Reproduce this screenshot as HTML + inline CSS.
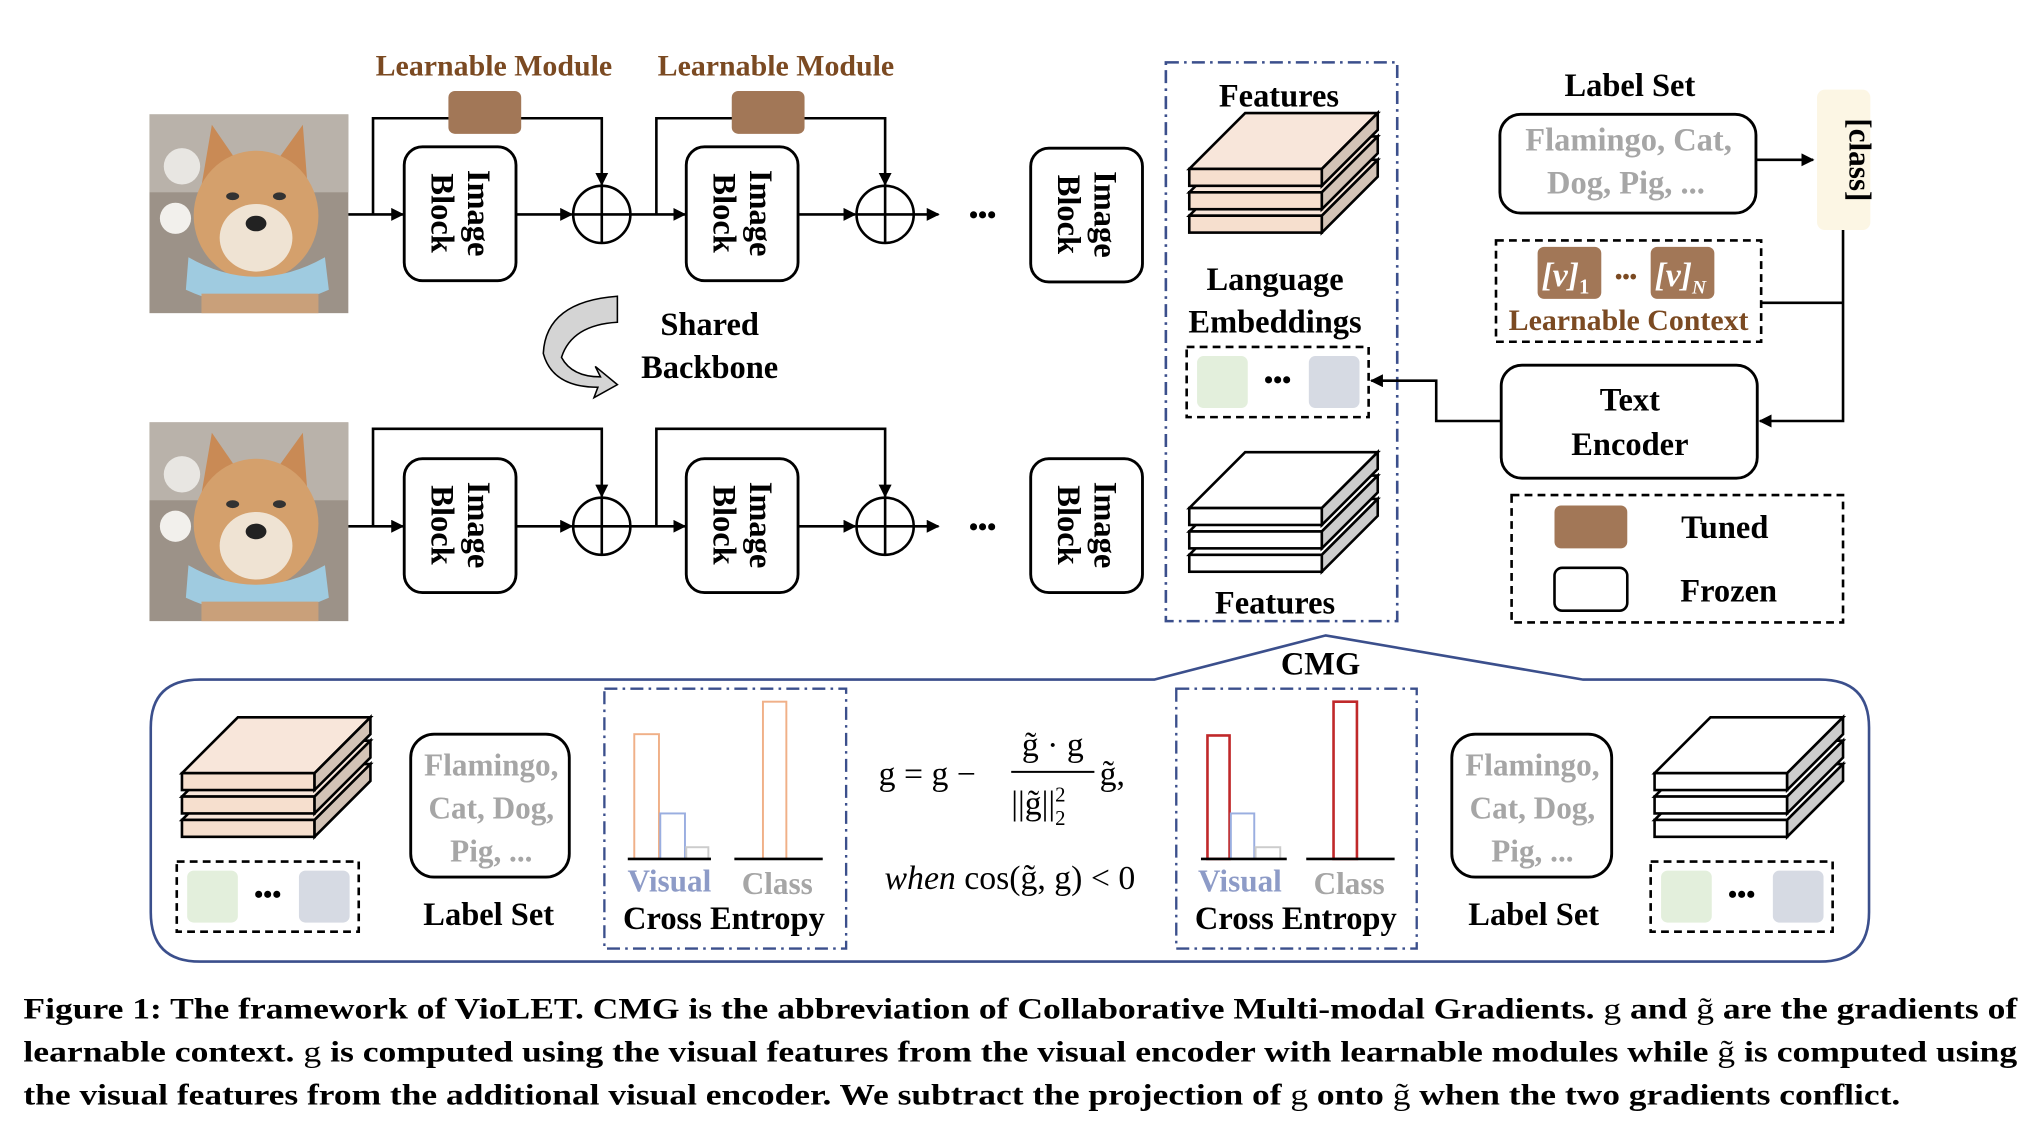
<!DOCTYPE html>
<html><head><meta charset="utf-8"><style>
html,body{margin:0;padding:0;background:#fff;}
svg{display:block;}
text{font-family:"Liberation Serif",serif;font-weight:bold;}
</style></head><body>
<svg width="2038" height="1124" viewBox="0 0 1568 865" preserveAspectRatio="none" xmlns="http://www.w3.org/2000/svg">
<defs>
<marker id="ah" markerWidth="10" markerHeight="10" refX="9" refY="5" orient="auto" markerUnits="userSpaceOnUse"><path d="M0,0 L10,5 L0,10 z" fill="#000"/></marker>
<g id="dog">
<rect x="0" y="0" width="153" height="153" fill="#9c9288"/>
<rect x="0" y="0" width="153" height="60" fill="#b9b2aa"/>
<circle cx="25" cy="40" r="14" fill="#e8e6e2"/>
<circle cx="20" cy="80" r="12" fill="#f2f0ec"/>
<path d="M40,55 L48,8 L70,40 L95,40 L118,8 L122,60 Z" fill="#c98a55"/>
<ellipse cx="82" cy="78" rx="48" ry="50" fill="#d4a06c"/>
<ellipse cx="82" cy="95" rx="28" ry="26" fill="#efe3d3"/>
<ellipse cx="82" cy="84" rx="8" ry="6" fill="#222"/>
<ellipse cx="64" cy="63" rx="5" ry="3" fill="#333"/>
<ellipse cx="100" cy="63" rx="5" ry="3" fill="#333"/>
<path d="M30,110 Q82,140 135,110 L138,135 Q82,160 28,135 Z" fill="#9fcbe0"/>
<rect x="40" y="138" width="90" height="15" fill="#c9a07a"/>
</g>
<g id="blockT">
<rect x="0" y="0" width="86" height="103" rx="14" fill="#fff" stroke="#000" stroke-width="2.2"/>
<g transform="translate(43,51) rotate(90)"><text x="0" y="-6" font-size="25" text-anchor="middle">Image</text><text x="0" y="22" font-size="25" text-anchor="middle">Block</text></g>
</g>
<g id="plus"><circle cx="0" cy="0" r="22" fill="#fff" stroke="#000" stroke-width="2"/><line x1="-22" y1="0" x2="22" y2="0" stroke="#000" stroke-width="2"/><line x1="0" y1="-22" x2="0" y2="22" stroke="#000" stroke-width="2"/></g>
<g id="stackP">
<g transform="translate(0,36)"><polygon points="0,43 102,43 145,0 43,0" fill="#f8e6da" stroke="#000" stroke-width="2"/><rect x="0" y="43" width="102" height="13" fill="#f6dfce" stroke="#000" stroke-width="2"/><polygon points="102,43 145,0 145,13 102,56" fill="#d3c3b6" stroke="#000" stroke-width="2"/></g>
<g transform="translate(0,18)"><polygon points="0,43 102,43 145,0 43,0" fill="#f8e6da" stroke="#000" stroke-width="2"/><rect x="0" y="43" width="102" height="13" fill="#f6dfce" stroke="#000" stroke-width="2"/><polygon points="102,43 145,0 145,13 102,56" fill="#d3c3b6" stroke="#000" stroke-width="2"/></g>
<g><polygon points="0,43 102,43 145,0 43,0" fill="#f8e6da" stroke="#000" stroke-width="2"/><rect x="0" y="43" width="102" height="13" fill="#f6dfce" stroke="#000" stroke-width="2"/><polygon points="102,43 145,0 145,13 102,56" fill="#d3c3b6" stroke="#000" stroke-width="2"/></g>
</g>
<g id="stackW">
<g transform="translate(0,36)"><polygon points="0,43 102,43 145,0 43,0" fill="#fff" stroke="#000" stroke-width="2"/><rect x="0" y="43" width="102" height="13" fill="#fff" stroke="#000" stroke-width="2"/><polygon points="102,43 145,0 145,13 102,56" fill="#ccc" stroke="#000" stroke-width="2"/></g>
<g transform="translate(0,18)"><polygon points="0,43 102,43 145,0 43,0" fill="#fff" stroke="#000" stroke-width="2"/><rect x="0" y="43" width="102" height="13" fill="#fff" stroke="#000" stroke-width="2"/><polygon points="102,43 145,0 145,13 102,56" fill="#ccc" stroke="#000" stroke-width="2"/></g>
<g><polygon points="0,43 102,43 145,0 43,0" fill="#fff" stroke="#000" stroke-width="2"/><rect x="0" y="43" width="102" height="13" fill="#fff" stroke="#000" stroke-width="2"/><polygon points="102,43 145,0 145,13 102,56" fill="#ccc" stroke="#000" stroke-width="2"/></g>
</g>
<g id="emb">
<rect x="0" y="0" width="140" height="54" fill="none" stroke="#000" stroke-width="2" stroke-dasharray="6,4"/>
<rect x="8" y="7" width="39" height="40" rx="5" fill="#e3efdc"/>
<rect x="94" y="7" width="39" height="40" rx="5" fill="#d6dae3"/>
<text x="70" y="32" font-size="20" text-anchor="middle">•••</text>
</g>
</defs>

<use href="#dog" x="115" y="88"/>
<use href="#dog" x="115" y="325"/>
<text x="380" y="58" font-size="23" fill="#7b4a22" text-anchor="middle">Learnable Module</text>
<text x="597" y="58" font-size="23" fill="#7b4a22" text-anchor="middle">Learnable Module</text>

<g stroke="#000" stroke-width="2" fill="none">
<line x1="268" y1="165" x2="310" y2="165" marker-end="url(#ah)"/>
<polyline points="287,165 287,91 463,91 463,142" marker-end="url(#ah)"/>
<line x1="397" y1="165" x2="440" y2="165" marker-end="url(#ah)"/>
<line x1="485" y1="165" x2="527" y2="165" marker-end="url(#ah)"/>
<polyline points="505,165 505,91 681,91 681,142" marker-end="url(#ah)"/>
<line x1="614" y1="165" x2="658" y2="165" marker-end="url(#ah)"/>
<line x1="703" y1="165" x2="722" y2="165" marker-end="url(#ah)"/>

<line x1="268" y1="405" x2="310" y2="405" marker-end="url(#ah)"/>
<polyline points="287,405 287,330 463,330 463,382" marker-end="url(#ah)"/>
<line x1="397" y1="405" x2="440" y2="405" marker-end="url(#ah)"/>
<line x1="485" y1="405" x2="527" y2="405" marker-end="url(#ah)"/>
<polyline points="505,405 505,330 681,330 681,382" marker-end="url(#ah)"/>
<line x1="614" y1="405" x2="658" y2="405" marker-end="url(#ah)"/>
<line x1="703" y1="405" x2="722" y2="405" marker-end="url(#ah)"/>
</g>
<rect x="345" y="70" width="56" height="33" rx="5" fill="#a27757"/>
<rect x="563" y="70" width="56" height="33" rx="5" fill="#a27757"/>
<use href="#blockT" x="311" y="113"/>
<use href="#blockT" x="528" y="113"/>
<use href="#blockT" x="793" y="114"/>
<use href="#blockT" x="311" y="353"/>
<use href="#blockT" x="528" y="353"/>
<use href="#blockT" x="793" y="353"/>
<use href="#plus" x="463" y="165"/>
<use href="#plus" x="681" y="165"/>
<use href="#plus" x="463" y="405"/>
<use href="#plus" x="681" y="405"/>
<text x="756" y="172" font-size="20" text-anchor="middle">•••</text>
<text x="756" y="412" font-size="20" text-anchor="middle">•••</text>

<path d="M475,228 L475,248 Q440,250 432,275 Q440,290 462,290 L458,282 L475,296 L457,306 L460,298 Q425,298 418,272 Q420,232 475,228 Z" fill="#d4d4d4" stroke="#000" stroke-width="1.2"/>
<text x="546" y="258" font-size="25" text-anchor="middle">Shared</text>
<text x="546" y="291" font-size="25" text-anchor="middle">Backbone</text>

<rect x="897" y="48" width="178" height="430" fill="none" stroke="#3b4f8c" stroke-width="2" stroke-dasharray="10,4,2,4"/>
<text x="984" y="82" font-size="25" text-anchor="middle">Features</text>
<use href="#stackP" x="915" y="87"/>
<text x="981" y="223" font-size="25" text-anchor="middle">Language</text>
<text x="981" y="256" font-size="25" text-anchor="middle">Embeddings</text>
<use href="#emb" x="913" y="267"/>
<use href="#stackW" x="915" y="348"/>
<text x="981" y="472" font-size="25" text-anchor="middle">Features</text>

<text x="1254" y="74" font-size="25" text-anchor="middle">Label Set</text>
<rect x="1154" y="88" width="197" height="76" rx="16" fill="#fff" stroke="#000" stroke-width="2.2"/>
<text x="1253" y="116" font-size="25" fill="#a6a6a6" text-anchor="middle">Flamingo, Cat,</text>
<text x="1251" y="149" font-size="25" fill="#a6a6a6" text-anchor="middle">Dog, Pig, ...</text>
<line x1="1351" y1="123" x2="1395" y2="123" stroke="#000" stroke-width="2" marker-end="url(#ah)"/>
<rect x="1398" y="69" width="41" height="108" rx="6" fill="#fcf6e4"/>
<g transform="translate(1418,123) rotate(90)"><text x="0" y="-5" font-size="24" text-anchor="middle">[class]</text></g>

<rect x="1151" y="185" width="204" height="78" fill="none" stroke="#000" stroke-width="2" stroke-dasharray="6,4"/>
<rect x="1183" y="190" width="49" height="40" rx="5" fill="#a27757"/>
<rect x="1270" y="190" width="49" height="40" rx="5" fill="#a27757"/>
<text x="1186" y="220" font-size="26" fill="#fff" font-weight="normal" font-style="italic">[v]<tspan font-size="16" font-style="normal" dy="6">1</tspan></text>
<text x="1273" y="220" font-size="26" fill="#fff" font-weight="normal" font-style="italic">[v]<tspan font-size="15" dy="6">N</tspan></text>
<text x="1251" y="218" font-size="16" fill="#7b4a22" text-anchor="middle">•••</text>
<text x="1253" y="254" font-size="23" fill="#7b4a22" text-anchor="middle">Learnable Context</text>
<g stroke="#000" stroke-width="2" fill="none">
<polyline points="1418,177 1418,324 1354,324" marker-end="url(#ah)"/>
<line x1="1355" y1="233" x2="1418" y2="233"/>
<polyline points="1155,324 1105,324 1105,293 1055,293" marker-end="url(#ah)"/>
</g>
<rect x="1155" y="281" width="197" height="87" rx="16" fill="#fff" stroke="#000" stroke-width="2.2"/>
<text x="1254" y="316" font-size="25" text-anchor="middle">Text</text>
<text x="1254" y="350" font-size="25" text-anchor="middle">Encoder</text>

<rect x="1163" y="381" width="255" height="98" fill="none" stroke="#000" stroke-width="2" stroke-dasharray="6,4"/>
<rect x="1196" y="389" width="56" height="33" rx="5" fill="#a27757"/>
<rect x="1196" y="437" width="56" height="33" rx="6" fill="#fff" stroke="#000" stroke-width="2"/>
<text x="1327" y="414" font-size="25" text-anchor="middle">Tuned</text>
<text x="1330" y="463" font-size="25" text-anchor="middle">Frozen</text>

<path d="M888,523 L1020,489 L1218,523 L1400,523 Q1438,523 1438,560 L1438,702 Q1438,740 1400,740 L154,740 Q116,740 116,702 L116,560 Q116,523 154,523 Z" fill="none" stroke="#3b4f8c" stroke-width="2"/>
<text x="1016" y="519" font-size="25" text-anchor="middle">CMG</text>

<use href="#stackP" x="140" y="552"/>
<use href="#emb" x="136" y="663"/>
<rect x="316" y="565" width="122" height="110" rx="18" fill="#fff" stroke="#000" stroke-width="2.2"/>
<text x="378" y="597" font-size="24" fill="#a6a6a6" font-weight="normal" text-anchor="middle">Flamingo,</text>
<text x="378" y="630" font-size="24" fill="#a6a6a6" font-weight="normal" text-anchor="middle">Cat, Dog,</text>
<text x="378" y="663" font-size="24" fill="#a6a6a6" font-weight="normal" text-anchor="middle">Pig, ...</text>
<text x="376" y="712" font-size="25" text-anchor="middle">Label Set</text>

<rect x="465" y="530" width="186" height="200" fill="none" stroke="#3b4f8c" stroke-width="1.8" stroke-dasharray="10,4,2,4"/>
<rect x="488" y="565" width="19" height="96" fill="#fff" stroke="#f0b088" stroke-width="1.5"/>
<rect x="508" y="626" width="19" height="35" fill="#fff" stroke="#9aaee0" stroke-width="1.5"/>
<rect x="528" y="652" width="17" height="9" fill="#fff" stroke="#ccc" stroke-width="1.5"/>
<line x1="483" y1="661" x2="547" y2="661" stroke="#000" stroke-width="2"/>
<rect x="587" y="540" width="18" height="121" fill="#fff" stroke="#f0b088" stroke-width="1.5"/>
<line x1="565" y1="661" x2="633" y2="661" stroke="#000" stroke-width="2"/>
<text x="515" y="686" font-size="24" fill="#8d9bc7" font-weight="normal" text-anchor="middle">Visual</text>
<text x="598" y="688" font-size="24" fill="#a6a6a6" font-weight="normal" text-anchor="middle">Class</text>
<text x="557" y="715" font-size="25" text-anchor="middle">Cross Entropy</text>

<text x="676" y="604" font-size="26" style="font-weight:normal">g = g −</text>
<text x="810" y="582" font-size="26" text-anchor="middle" style="font-weight:normal">g̃ · g</text>
<line x1="778" y1="594" x2="842" y2="594" stroke="#000" stroke-width="1.5"/>
<text x="778" y="627" font-size="26" style="font-weight:normal">||g̃||<tspan font-size="16" dy="-10">2</tspan><tspan font-size="16" dx="-8" dy="18">2</tspan></text>
<text x="846" y="604" font-size="26" style="font-weight:normal">g̃,</text>
<text x="777" y="684" font-size="26" text-anchor="middle" style="font-weight:normal"><tspan font-style="italic">when</tspan> cos(g̃, g) &lt; 0</text>

<rect x="905" y="530" width="185" height="200" fill="none" stroke="#3b4f8c" stroke-width="1.8" stroke-dasharray="10,4,2,4"/>
<rect x="929" y="566" width="17" height="95" fill="#fff" stroke="#c0282a" stroke-width="2"/>
<rect x="947" y="626" width="18" height="35" fill="#fff" stroke="#9aaee0" stroke-width="1.5"/>
<rect x="966" y="652" width="19" height="9" fill="#fff" stroke="#ccc" stroke-width="1.5"/>
<line x1="924" y1="661" x2="990" y2="661" stroke="#000" stroke-width="2"/>
<rect x="1026" y="540" width="18" height="121" fill="#fff" stroke="#c0282a" stroke-width="2"/>
<line x1="1005" y1="661" x2="1073" y2="661" stroke="#000" stroke-width="2"/>
<text x="954" y="686" font-size="24" fill="#8d9bc7" font-weight="normal" text-anchor="middle">Visual</text>
<text x="1038" y="688" font-size="24" fill="#a6a6a6" font-weight="normal" text-anchor="middle">Class</text>
<text x="997" y="715" font-size="25" text-anchor="middle">Cross Entropy</text>

<rect x="1117" y="565" width="123" height="110" rx="18" fill="#fff" stroke="#000" stroke-width="2.2"/>
<text x="1179" y="597" font-size="24" fill="#a6a6a6" font-weight="normal" text-anchor="middle">Flamingo,</text>
<text x="1179" y="630" font-size="24" fill="#a6a6a6" font-weight="normal" text-anchor="middle">Cat, Dog,</text>
<text x="1179" y="663" font-size="24" fill="#a6a6a6" font-weight="normal" text-anchor="middle">Pig, ...</text>
<text x="1180" y="712" font-size="25" text-anchor="middle">Label Set</text>
<use href="#stackW" x="1273" y="552"/>
<use href="#emb" x="1270" y="663"/>

<text x="18" y="784" font-size="23" textLength="1534" lengthAdjust="spacingAndGlyphs">Figure 1: The framework of VioLET. CMG is the abbreviation of Collaborative Multi-modal Gradients. <tspan font-weight="normal">g</tspan> and <tspan font-weight="normal">g̃</tspan> are the gradients of</text>
<text x="18" y="817" font-size="23" textLength="1534" lengthAdjust="spacingAndGlyphs">learnable context. <tspan font-weight="normal">g</tspan> is computed using the visual features from the visual encoder with learnable modules while <tspan font-weight="normal">g̃</tspan> is computed using</text>
<text x="18" y="850" font-size="23" textLength="1444" lengthAdjust="spacingAndGlyphs">the visual features from the additional visual encoder. We subtract the projection of <tspan font-weight="normal">g</tspan> onto <tspan font-weight="normal">g̃</tspan> when the two gradients conflict.</text>
</svg>
</body></html>
